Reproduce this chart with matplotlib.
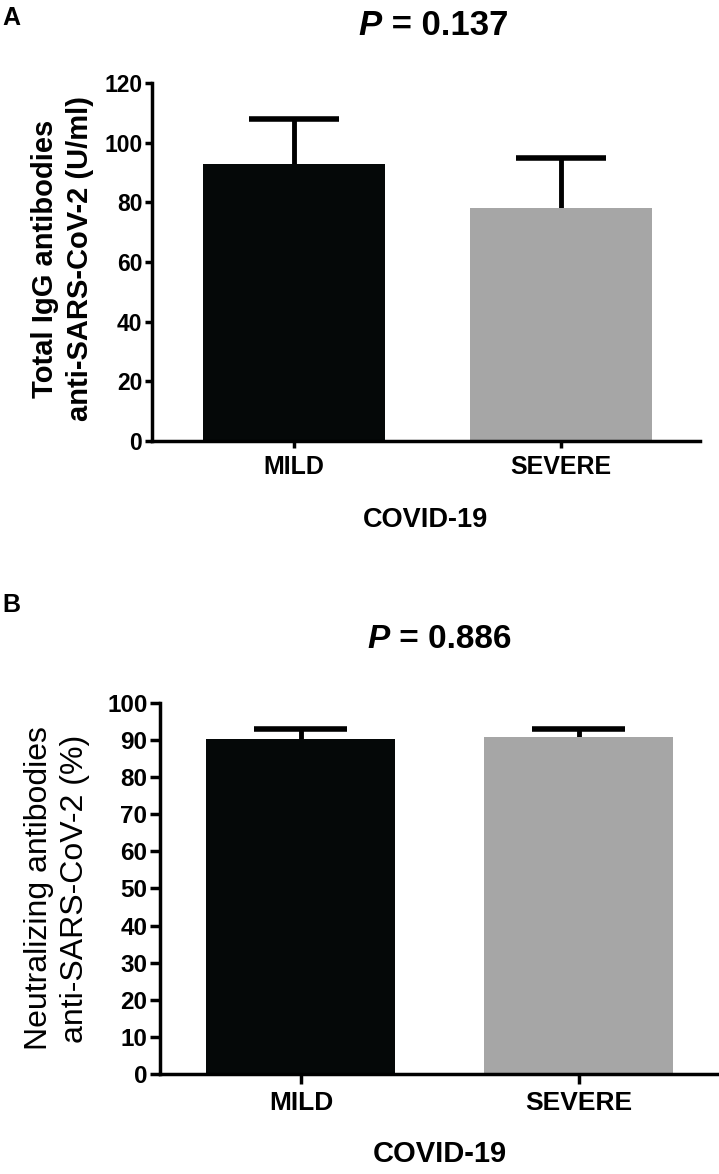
import numpy as np
import matplotlib.pyplot as plt

plt.rcParams['font.family'] = ['Liberation Sans', 'DejaVu Sans']

groups = ['MILD', 'SEVERE']
bar_colors = ['#050808', '#a6a6a6']

igg_mean = [93, 78]
igg_sem = [15, 17]
igg_ticks = [0, 20, 40, 60, 80, 100, 120]

neut_mean = [90.4, 90.9]
neut_sem = [2.6, 2.1]
neut_ticks = [0, 10, 20, 30, 40, 50, 60, 70, 80, 90, 100]

fig = plt.figure(figsize=(7.19, 11.74), dpi=100)
axA = fig.add_axes([0.2114, 0.6244, 0.762, 0.3049])
axB = fig.add_axes([0.2225, 0.0852, 0.7775, 0.316])


def draw_panel(ax, means, errs, ticks, ymax, xlim, tsize, tlen, tpad):
    x = np.arange(len(groups))
    ax.bar(x, means, width=0.68, color=bar_colors, zorder=2)
    tops = np.array(means) + np.array(errs)
    ax.vlines(x, np.array(means) - 0.6, tops, color='black', lw=3.5, zorder=1)
    ax.hlines(tops, x - 0.167, x + 0.167, color='black', lw=4, zorder=3)
    ax.set_xlim(*xlim)
    ax.set_ylim(0, ymax)
    ax.set_yticks(ticks)
    ax.set_xticks(x)
    ax.set_xticklabels(groups)
    for s in ['top', 'right']:
        ax.spines[s].set_visible(False)
    for s in ['left', 'bottom']:
        ax.spines[s].set_linewidth(2.5)
        ax.spines[s].set_capstyle('projecting')
    ax.tick_params(axis='y', width=2.5, length=tlen, pad=tpad, labelsize=tsize)
    ax.tick_params(axis='x', width=2.5, length=tlen, pad=tpad + 3, labelsize=tsize + 1.5)
    for t in ax.get_xticklabels() + ax.get_yticklabels():
        t.set_fontweight('bold')


draw_panel(axA, igg_mean, igg_sem, igg_ticks, 120, (-0.532, 1.52), 16.5, 5, 2)
draw_panel(axB, neut_mean, neut_sem, neut_ticks, 100, (-0.507, 1.504), 17.5, 7, 2)

axA.set_ylabel('Total IgG antibodies\nanti-SARS-CoV-2 (U/ml)', fontsize=21,
               fontweight='bold', linespacing=1.3)
axA.yaxis.set_label_coords(-0.106, 0.51)
axB.set_ylabel('Neutralizing antibodies\nanti-SARS-CoV-2 (%)', fontsize=23,
               linespacing=1.25)
axB.yaxis.set_label_coords(-0.125, 0.5)

axA.set_xlabel('COVID-19', fontsize=19.5, fontweight='bold', labelpad=20)
axB.set_xlabel('COVID-19', fontsize=21, fontweight='bold', labelpad=18)

fig.text(0.531, 0.978, 'P', fontsize=25, fontweight='bold', style='italic', ha='right', va='center')
fig.text(0.531, 0.978, ' = 0.137', fontsize=25, fontweight='bold', ha='left', va='center')
fig.text(0.542, 0.455, 'P', fontsize=24, fontweight='bold', style='italic', ha='right', va='center')
fig.text(0.542, 0.455, ' = 0.886', fontsize=24, fontweight='bold', ha='left', va='center')

fig.text(0.003, 0.985, 'A', fontsize=18, fontweight='bold', va='center')
fig.text(0.003, 0.485, 'B', fontsize=18, fontweight='bold', va='center')

fig.savefig('out.png', dpi=100)
